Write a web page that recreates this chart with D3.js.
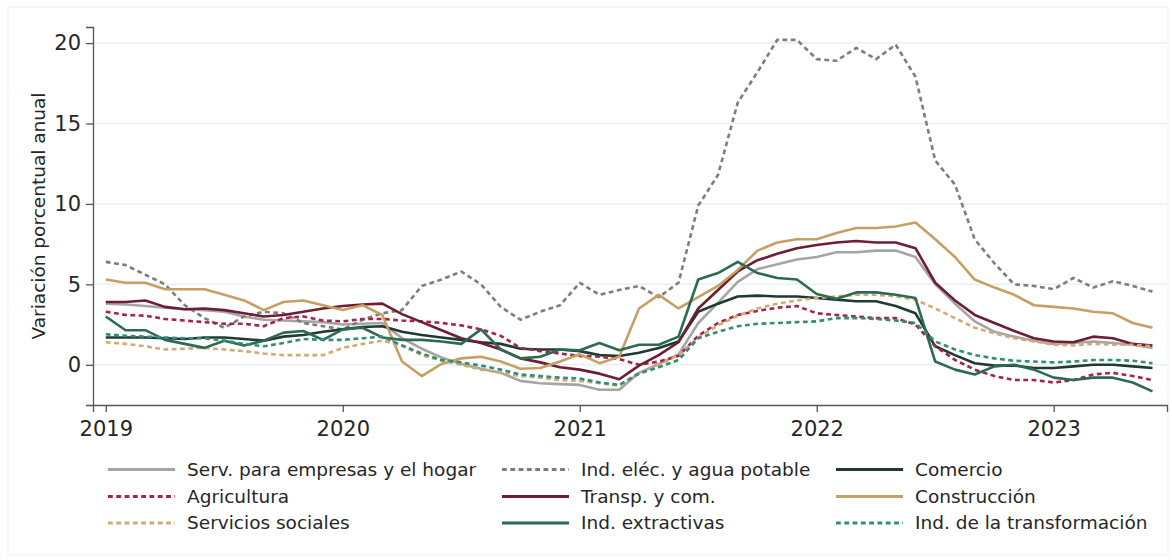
<!DOCTYPE html>
<html><head><meta charset="utf-8">
<script src="https://cdn.jsdelivr.net/npm/d3@7/dist/d3.min.js"></script>
<style>body{margin:0;background:#fff} svg{display:block}</style>
</head><body><svg id="c" width="1172" height="560"></svg>
<script>
// Monthly data, Jan 2019 – Jun 2023
const startYear = 2019;
const yearTicks = [2019, 2020, 2021, 2022, 2023];
const yTicks = [0, 5, 10, 15, 20];

const servEmpresas = [3.8,3.75,3.65,3.55,3.45,3.4,3.3,3.0,2.8,2.75,2.7,2.65,
  2.5,2.55,2.6,1.65,1.0,0.45,0.05,-0.25,-0.5,-1.0,-1.15,-1.2,
  -1.25,-1.55,-1.55,-0.5,0.05,0.65,2.6,3.85,5.15,5.95,6.25,6.55,
  6.7,7.0,7.0,7.1,7.1,6.7,5.0,3.8,2.7,2.05,1.75,1.5,
  1.3,1.35,1.45,1.35,1.25,1.05];
const indElec = [6.4,6.2,5.6,5.0,3.7,2.9,2.3,3.0,3.3,3.2,2.6,2.4,
  2.2,2.8,3.2,3.4,4.9,5.3,5.8,5.0,3.6,2.8,3.3,3.7,
  5.1,4.35,4.65,4.9,4.2,5.1,9.9,11.8,16.3,18.2,20.2,20.2,
  19.0,18.9,19.7,19.0,19.9,17.9,12.7,11.2,7.8,6.3,5.0,4.9,
  4.7,5.4,4.8,5.2,4.9,4.55];
const comercio = [1.7,1.7,1.7,1.65,1.6,1.7,1.7,1.6,1.5,1.75,1.85,2.05,
  2.2,2.35,2.4,2.05,1.85,1.7,1.55,1.4,1.3,1.0,0.95,0.95,
  0.85,0.6,0.55,0.75,1.05,1.45,3.3,3.8,4.25,4.3,4.25,4.25,
  4.15,4.05,3.95,3.95,3.65,3.2,1.15,0.6,0.1,-0.05,-0.05,-0.2,
  -0.2,-0.1,0.0,0.0,-0.1,-0.2];
const agricultura = [3.3,3.1,3.05,2.85,2.75,2.65,2.55,2.55,2.4,2.9,3.0,2.75,
  2.7,2.85,2.85,2.75,2.7,2.6,2.45,2.2,1.8,1.05,0.85,0.7,
  0.55,0.5,0.35,0.0,0.2,0.55,1.8,2.6,3.1,3.35,3.55,3.65,
  3.2,3.1,3.0,2.9,2.9,2.5,1.15,0.3,-0.3,-0.7,-0.95,-0.95,
  -1.1,-0.95,-0.6,-0.5,-0.7,-0.95];
const transporte = [3.9,3.9,4.0,3.6,3.45,3.5,3.4,3.2,3.0,3.1,3.3,3.5,
  3.65,3.75,3.8,3.15,2.65,2.15,1.65,1.35,0.95,0.4,0.15,-0.15,
  -0.3,-0.55,-0.9,-0.05,0.6,1.4,3.5,4.65,5.8,6.5,6.9,7.25,
  7.45,7.6,7.7,7.6,7.6,7.25,5.1,4.0,3.1,2.6,2.1,1.65,
  1.45,1.4,1.75,1.65,1.3,1.2];
const construccion = [5.3,5.1,5.1,4.7,4.7,4.7,4.35,4.0,3.4,3.9,4.0,3.7,
  3.4,3.7,3.1,0.2,-0.7,0.05,0.4,0.5,0.2,-0.25,-0.2,0.2,
  0.65,0.1,0.5,3.5,4.35,3.5,4.2,4.9,5.9,7.1,7.6,7.8,
  7.8,8.2,8.5,8.5,8.6,8.85,7.8,6.7,5.3,4.8,4.35,3.7,
  3.6,3.5,3.3,3.2,2.6,2.3];
const serviciosSociales = [1.4,1.3,1.15,0.95,1.0,1.05,0.95,0.85,0.7,0.6,0.6,0.6,
  1.05,1.3,1.5,1.2,0.6,0.25,0.0,-0.3,-0.5,-0.7,-0.8,-0.95,
  -1.0,-1.15,-1.3,-0.5,0.0,0.6,1.7,2.45,3.05,3.5,3.8,4.0,
  4.15,4.25,4.35,4.35,4.25,4.05,3.5,2.9,2.3,1.95,1.65,1.45,
  1.25,1.2,1.3,1.25,1.25,1.15];
const indExtractivas = [3.0,2.15,2.15,1.55,1.3,1.05,1.5,1.2,1.5,2.0,2.1,1.55,
  2.2,2.3,1.7,1.55,1.55,1.45,1.3,2.2,0.95,0.4,0.5,0.95,
  0.9,1.35,0.9,1.25,1.25,1.75,5.3,5.7,6.4,5.7,5.4,5.3,
  4.4,4.1,4.5,4.5,4.35,4.15,0.2,-0.3,-0.6,-0.1,0.0,-0.3,
  -0.8,-0.95,-0.8,-0.8,-1.1,-1.65];
const indTransformacion = [1.9,1.8,1.75,1.7,1.65,1.65,1.5,1.3,1.15,1.35,1.6,1.55,
  1.55,1.65,1.75,1.2,0.7,0.3,0.15,-0.05,-0.3,-0.6,-0.7,-0.8,
  -0.85,-1.1,-1.25,-0.55,-0.15,0.3,1.65,2.05,2.4,2.55,2.6,2.65,
  2.7,2.9,2.9,2.85,2.75,2.6,1.45,0.95,0.6,0.4,0.25,0.2,
  0.15,0.2,0.3,0.3,0.25,0.1];

const seriesNames = ["Serv. para empresas y el hogar","Ind. eléc. y agua potable","Comercio",
  "Agricultura","Transp. y com.","Construcción",
  "Servicios sociales","Ind. extractivas","Ind. de la transformación"];
const seriesValues = [servEmpresas, indElec, comercio, agricultura, transporte, construccion,
  serviciosSociales, indExtractivas, indTransformacion];
const seriesColors = ["#a5a5a5","#7d7d7d","#1e3a31","#a6234a","#6f1d33","#c79f63","#d1aa74","#2c6a53","#2f8e76"];
const seriesDashed = [false,true,false,true,false,false,true,false,true];

const svg = d3.select("#c");
const FONT = "'DejaVu Sans', sans-serif";
const textColor = "#262626";

svg.append("rect").attr("x",8).attr("y",7).attr("width",1160).attr("height",548)
  .attr("fill","none").attr("stroke","#f0f0f0").attr("stroke-width",1);

const x = d3.scaleLinear().domain([2018.946, 2023.478]).range([93, 1167]);
const y = d3.scaleLinear().domain([-2.5, 21]).range([405, 27]);
const tOf = i => startYear + i / 12;

// grid
svg.append("g").selectAll("line").data(yTicks).join("line")
  .attr("x1", 95).attr("x2", 1167)
  .attr("y1", d => y(d)).attr("y2", d => y(d))
  .attr("stroke", "#e9f0f0").attr("stroke-width", 1.5);

// axes
const yAxis = svg.append("g").attr("transform","translate(93,0)")
  .call(d3.axisLeft(y).tickValues(yTicks).tickSize(7).tickPadding(5));
const xAxis = svg.append("g").attr("transform","translate(0,405)")
  .call(d3.axisBottom(x).tickValues(yearTicks).tickFormat(d3.format("d")).tickSize(7).tickPadding(9));
[yAxis, xAxis].forEach(g => {
  g.select(".domain").attr("stroke","#555").attr("stroke-width",1.3);
  g.selectAll(".tick line").attr("stroke","#555").attr("stroke-width",1.3);
  g.selectAll(".tick text").attr("fill",textColor).attr("font-family",FONT).attr("font-size",21);
});

svg.append("text").attr("transform","translate(45,216) rotate(-90)")
  .attr("text-anchor","middle").attr("font-family",FONT).attr("font-size",18.5)
  .attr("fill",textColor).text("Variación porcentual anual");

// lines
const line = d3.line().x((d,i) => x(tOf(i))).y(d => y(d));
const g = svg.append("g");
seriesValues.forEach((vals, k) => {
  g.append("path").datum(vals).attr("d", line)
    .attr("fill","none").attr("stroke", seriesColors[k])
    .attr("stroke-width", 2.6)
    .attr("stroke-linejoin","round")
    .attr("stroke-dasharray", seriesDashed[k] ? "4.8,3.5" : null);
});

// legend
const colLine = [108, 502, 836];
const colText = [187, 581, 915];
const rowY = [469.5, 496.5, 523];
seriesNames.forEach((name, k) => {
  const c = k % 3, r = Math.floor(k / 3);
  svg.append("line").attr("x1", colLine[c]).attr("x2", colLine[c] + 67)
    .attr("y1", rowY[r]).attr("y2", rowY[r])
    .attr("stroke", seriesColors[k]).attr("stroke-width", 2.8)
    .attr("stroke-dasharray", seriesDashed[k] ? "4.8,3.5" : null);
  svg.append("text").attr("x", colText[c]).attr("y", rowY[r]).attr("dy","0.35em")
    .attr("font-family",FONT).attr("font-size",18.5).attr("fill",textColor).text(name);
});
</script></body></html>
